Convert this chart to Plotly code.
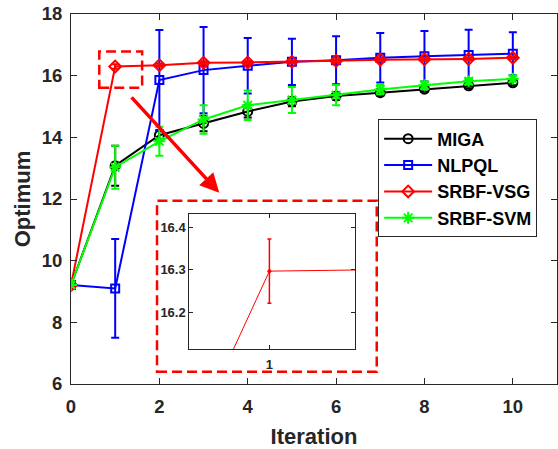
import plotly.graph_objects as go

# Iteration index
iterations = [0, 1, 2, 3, 4, 5, 6, 7, 8, 9, 10]

# Mean optimum per iteration and its spread
miga = [9.21, 13.08, 14.07, 14.45, 14.84, 15.16, 15.34, 15.45, 15.56, 15.67, 15.77]
miga_err = [0, 0.65, 0.15, 0.25, 0.2, 0.15, 0.12, 0.1, 0.08, 0.08, 0.08]

nlpql = [9.21, 9.10, 15.86, 16.18, 16.32, 16.45, 16.50, 16.58, 16.63, 16.67, 16.71]
nlpql_err = [0, 1.6, 1.62, 1.4, 0.9, 0.75, 0.78, 0.8, 0.82, 0.82, 0.7]

vsg = [9.21, 16.297, 16.34, 16.42, 16.43, 16.45, 16.48, 16.52, 16.53, 16.54, 16.58]
vsg_err = [0, 0.076, 0.05, 0.05, 0.05, 0.05, 0.05, 0.05, 0.05, 0.05, 0.05]

svm = [9.21, 13.03, 13.87, 14.58, 15.04, 15.21, 15.37, 15.55, 15.69, 15.82, 15.90]
svm_err = [0, 0.7, 0.47, 0.46, 0.48, 0.42, 0.33, 0.15, 0.12, 0.1, 0.1]

series_names = ["MIGA", "NLPQL", "SRBF-VSG", "SRBF-SVM"]

FONT = "Liberation Sans, Arial, sans-serif"
INK = "#262626"

series = [
    (series_names[0], miga, miga_err, "black", "circle-open", 9),
    (series_names[1], nlpql, nlpql_err, "blue", "square-open", 8),
    (series_names[2], vsg, vsg_err, "red", "diamond-open", 9),
    (series_names[3], svm, svm_err, "#00ff00", "asterisk-open", 10),
]

fig = go.Figure()
for name, ys, errs, color, symbol, size in series:
    fig.add_trace(go.Scatter(
        x=iterations, y=ys, name=name, mode="lines+markers",
        line=dict(color=color, width=2),
        marker=dict(symbol=symbol, size=size, color=color,
                    line=dict(color=color, width=2)),
        error_y=dict(type="data", array=errs, visible=True,
                     color=color, thickness=2, width=4),
    ))

# Zoomed view around iteration 1 for SRBF-VSG
fig.add_trace(go.Scatter(
    x=iterations, y=vsg, mode="lines+markers", showlegend=False,
    line=dict(color="red", width=1),
    marker=dict(symbol="circle", size=4, color="red"),
    error_y=dict(type="data", array=vsg_err, visible=True,
                 color="red", thickness=1.5, width=2),
    xaxis="x2", yaxis="y2",
))

axis_common = dict(
    showline=True, linecolor=INK, linewidth=1, mirror="ticks",
    ticks="inside", ticklen=6, tickcolor=INK, showgrid=False, zeroline=False,
    tickfont=dict(family=FONT, size=18.5, color=INK, weight="bold"),
)

fig.update_layout(
    width=558, height=449,
    margin=dict(l=71, r=1, t=14, b=65),
    paper_bgcolor="white", plot_bgcolor="white",
    showlegend=True,
    legend=dict(
        x=0.632, y=0.715, xanchor="left", yanchor="top",
        bgcolor="white", bordercolor=INK, borderwidth=1,
        font=dict(family=FONT, size=18, color="black", weight="bold"),
        itemwidth=48, tracegroupgap=0,
    ),
    xaxis=dict(
        range=[0, 11], tickvals=[0, 2, 4, 6, 8, 10], **axis_common,
        ticklabelstandoff=6,
        title=dict(text="Iteration", standoff=12,
                   font=dict(family=FONT, size=22, color=INK, weight="bold")),
    ),
    yaxis=dict(
        range=[6, 18], tickvals=[6, 8, 10, 12, 14, 16, 18], **axis_common,
        ticklabelstandoff=4,
        title=dict(text="Optimum", standoff=5,
                   font=dict(family=FONT, size=22, color=INK, weight="bold")),
    ),
    xaxis2=dict(
        domain=[0.2434, 0.5844], anchor="y2", range=[0.942, 1.062],
        tickvals=[1], showline=True, linecolor=INK, linewidth=1, mirror="ticks",
        ticks="inside", ticklen=4, tickcolor=INK, showgrid=False, zeroline=False,
        ticklabelstandoff=3,
        tickfont=dict(family=FONT, size=13, color=INK, weight="bold"),
    ),
    yaxis2=dict(
        domain=[0.0946, 0.4595], anchor="x2", range=[16.113, 16.432],
        tickvals=[16.2, 16.3, 16.4], showline=True, linecolor=INK, linewidth=1,
        mirror="ticks", ticks="inside", ticklen=4, tickcolor=INK,
        showgrid=False, zeroline=False,
        tickfont=dict(family=FONT, size=13, color=INK, weight="bold"),
    ),
)

# Dashed highlight boxes: the region of interest and the zoom panel frame
fig.add_shape(type="rect", xref="x", yref="y", x0=0.64, x1=1.61, y0=15.61, y1=16.78,
              line=dict(color="red", width=2.5, dash="10px,5px"))
fig.add_shape(type="rect", xref="paper", yref="paper",
              x0=0.1770, x1=0.6291, y0=0.0333, y1=0.4954,
              line=dict(color="red", width=2.5, dash="10px,5px"))

# Arrow pointing from the region of interest to the zoom panel
fig.add_annotation(
    x=3.355, y=12.20, xref="x", yref="y", ax=-89, ay=-97,
    axref="pixel", ayref="pixel", text="", showarrow=True,
    arrowhead=2, arrowsize=1.1, arrowwidth=3.5, arrowcolor="red",
)

fig.write_html("out.html")
